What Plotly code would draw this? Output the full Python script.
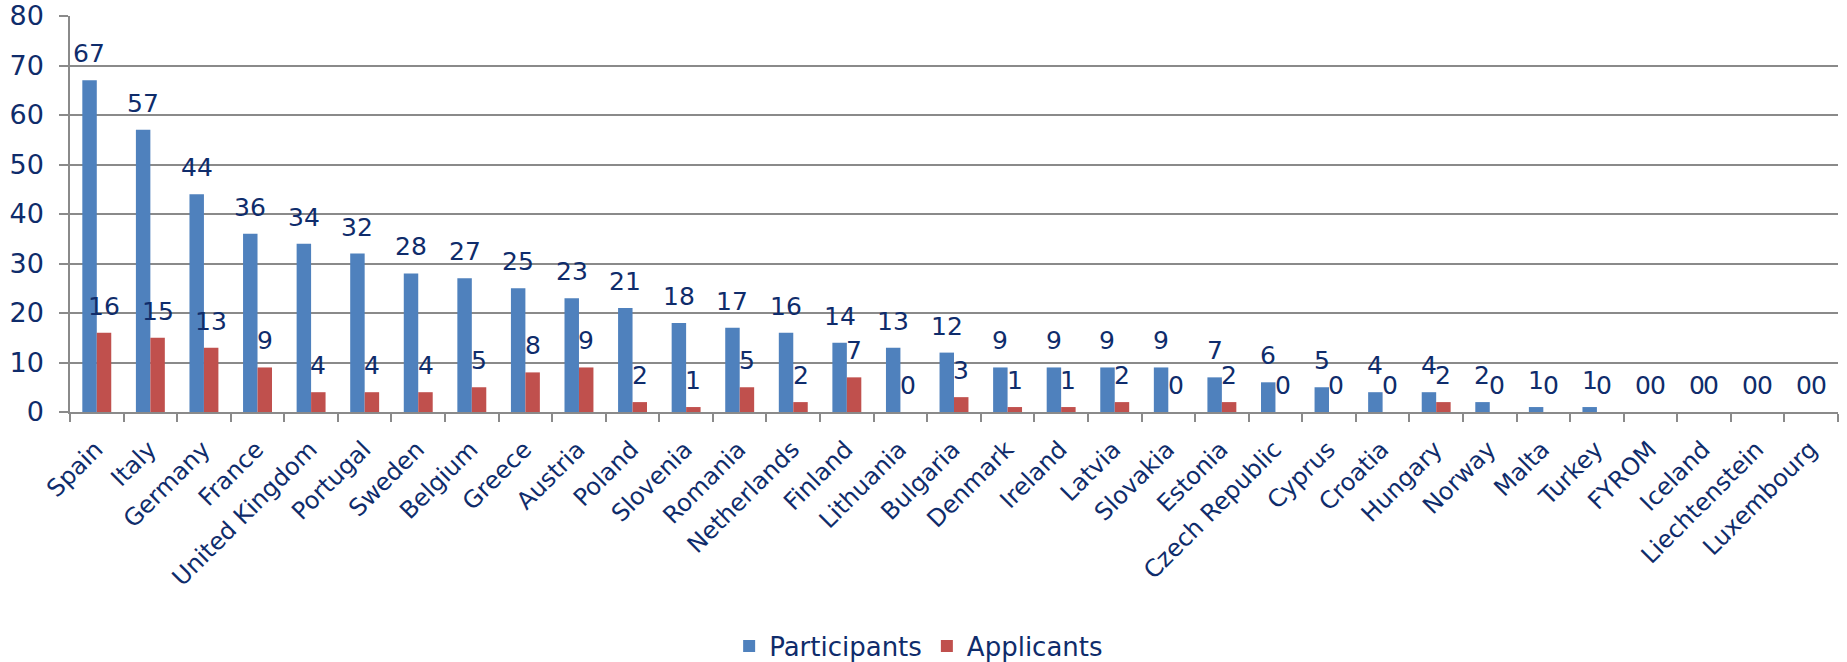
import plotly.graph_objects as go

countries = ["Spain", "Italy", "Germany", "France", "United Kingdom", "Portugal", "Sweden",
             "Belgium", "Greece", "Austria", "Poland", "Slovenia", "Romania", "Netherlands",
             "Finland", "Lithuania", "Bulgaria", "Denmark", "Ireland", "Latvia", "Slovakia",
             "Estonia", "Czech Republic", "Cyprus", "Croatia", "Hungary", "Norway", "Malta",
             "Turkey", "FYROM", "Iceland", "Liechtenstein", "Luxembourg"]
participants = [67, 57, 44, 36, 34, 32, 28, 27, 25, 23, 21, 18, 17, 16, 14, 13, 12, 9, 9, 9, 9,
                7, 6, 5, 4, 4, 2, 1, 1, 0, 0, 0, 0]
applicants = [16, 15, 13, 9, 4, 4, 4, 5, 8, 9, 2, 1, 5, 2, 7, 0, 3, 1, 1, 2, 0,
              2, 0, 0, 0, 2, 0, 0, 0, 0, 0, 0, 0]
y_ticks = [0, 10, 20, 30, 40, 50, 60, 70, 80]

TXT = "#0F2C6B"
GRID = "#8A8A8A"
FONT = "DejaVu Sans, Verdana, sans-serif"

fig = go.Figure()
fig.add_trace(go.Bar(name="Participants", x=countries, y=participants,
                     marker=dict(color="#4F81BD", line=dict(width=0))))
fig.add_trace(go.Bar(name="Applicants", x=countries, y=applicants,
                     marker=dict(color="#C0504D", line=dict(width=0))))

annotations = []
for c, v in zip(countries, participants):
    annotations.append(dict(x=c, y=v, xref="x", yref="y", text=str(v), showarrow=False,
                            xanchor="center", yanchor="bottom", xshift=-7.3, yshift=10,
                            font=dict(size=25, color=TXT, family=FONT)))
for c, v in zip(countries, applicants):
    annotations.append(dict(x=c, y=v, xref="x", yref="y", text=str(v), showarrow=False,
                            xanchor="center", yanchor="bottom", xshift=7.3, yshift=10,
                            font=dict(size=25, color=TXT, family=FONT)))

fig.update_layout(
    width=1847, height=662,
    margin=dict(l=70, r=9, t=16, b=250),
    paper_bgcolor="white", plot_bgcolor="white",
    barmode="group", bargap=0.46, bargroupgap=0,
    font=dict(family=FONT, color=TXT),
    annotations=annotations,
    legend=dict(orientation="h", x=0.480, xanchor="center", xref="paper",
                y=0.024, yref="container", yanchor="middle",
                font=dict(size=26, color=TXT, family=FONT), itemwidth=30,
                bgcolor="rgba(0,0,0,0)"),
    xaxis=dict(tickangle=-45, tickfont=dict(size=24, color=TXT, family=FONT),
               showline=True, linecolor=GRID, linewidth=1.5,
               ticks="outside", tickson="boundaries", ticklen=8, tickcolor=GRID, tickwidth=1.5,
               showgrid=False, automargin=False, ticklabelstandoff=12, ticklabelshift=-1),
    yaxis=dict(range=[0, 80], tickvals=y_ticks, tickfont=dict(size=27, color=TXT, family=FONT),
               showline=True, linecolor=GRID, linewidth=1.5,
               ticks="outside", ticklen=9, tickcolor=GRID, tickwidth=1.5,
               showgrid=True, gridcolor=GRID, gridwidth=1.5, zeroline=False,
               automargin=False, ticklabelstandoff=10),
)

fig.write_html("out.html", config={"displayModeBar": False},
               post_script="document.body.style.margin='0';")
